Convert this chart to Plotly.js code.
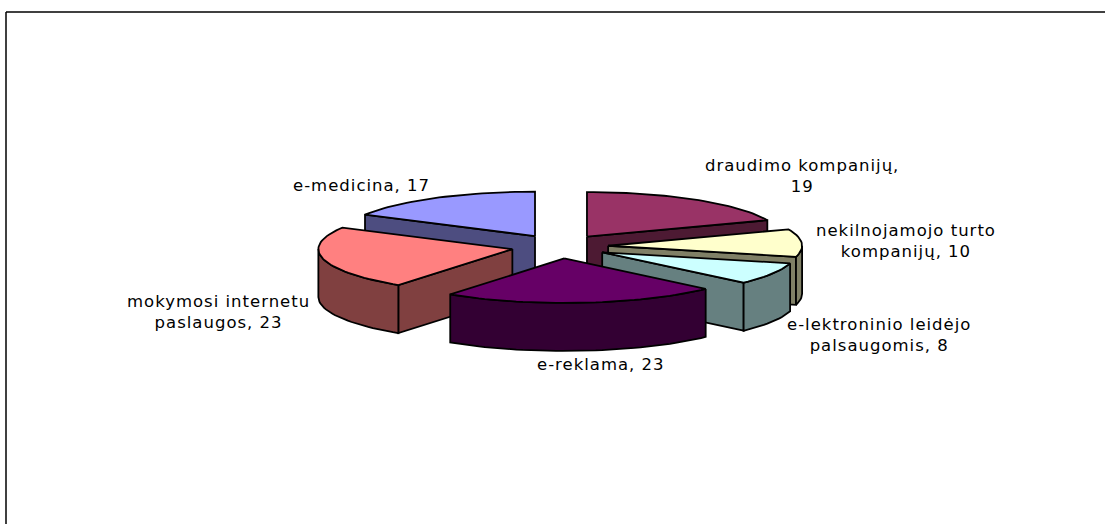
<!DOCTYPE html>
<html>
<head>
<meta charset="utf-8">
<script src="https://cdn.plot.ly/plotly-3.0.1.min.js"></script>
<style>
html,body{margin:0;padding:0;background:#fff}
.annotation-text{letter-spacing:1px}
</style>
</head>
<body>
<div id="chart" style="width:1105px;height:524px"></div>
<script>
// Share of e-services by sector, clockwise from twelve o'clock
const categories = ['draudimo kompanijų', 'nekilnojamojo turto kompanijų', 'e-lektroninio leidėjo palsaugomis', 'e-reklama', 'mokymosi internetu paslaugos', 'e-medicina'];
const values = [19, 10, 8, 23, 23, 17];
const topColors = ['#993366', '#FFFFCC', '#CCFFFF', '#660066', '#FF8080', '#9999FF'];
const sideColors = ['#4D1A33', '#808066', '#668080', '#330033', '#804040', '#4D4D80'];
const labelLines = [['draudimo kompanijų,', '19'], ['nekilnojamojo turto', 'kompanijų, 10'], ['e-lektroninio leidėjo', 'palsaugomis, 8'], ['e-reklama, 23'], ['mokymosi internetu', 'paslaugos, 23'], ['e-medicina, 17']];
const labelAnchors = [[802, 176], [906, 241], [879, 335], [601, 364], [218, 312], [361, 185]];

// Oblique pie projection
const cx = 559.7, cy = 246.5, rx = 194, ry = 44.5, depth = 48, explode = 48.5, explodeY = 12;
const rad = d => d * Math.PI / 180;

function rim(ox, oy, from, to, drop) {
  const pts = [];
  const n = Math.max(2, Math.ceil(Math.abs(to - from) / 2));
  for (let i = 0; i <= n; i++) {
    const a = rad(from + (to - from) * i / n);
    pts.push([ox + rx * Math.sin(a), oy - ry * Math.cos(a) + drop]);
  }
  return pts;
}

function poly(pts, color, name) {
  const xs = pts.map(p => p[0]), ys = pts.map(p => p[1]);
  xs.push(xs[0]); ys.push(ys[0]);
  return {x: xs, y: ys, type: 'scatter', mode: 'lines', fill: 'toself', fillcolor: color,
    line: {color: '#000', width: 1.8}, hoverinfo: 'skip', name: name, showlegend: false};
}

const total = values.reduce((a, b) => a + b, 0);
let acc = 0;
const slices = values.map((v, i) => {
  const from = acc / total * 360;
  acc += v;
  const to = acc / total * 360;
  const mid = rad((from + to) / 2);
  return {i, from, to, ox: cx + explode * Math.sin(mid), oy: cy - explodeY * Math.cos(mid)};
});

// Painted back to front so nearer slices cover the walls behind them
const order = [5, 0, 1, 2, 4, 3];
const traces = [];
order.forEach(k => {
  const s = slices[k], name = categories[k], side = sideColors[k];
  const edge = ang => {
    const p = rim(s.ox, s.oy, ang, ang, 0)[0];
    return [[s.ox, s.oy], p, [p[0], p[1] + depth], [s.ox, s.oy + depth]];
  };
  if (Math.sin(rad(s.from)) < -1e-6) traces.push(poly(edge(s.from), side, name));
  if (Math.sin(rad(s.to)) > 1e-6) traces.push(poly(edge(s.to), side, name));
  const a = Math.max(s.from, 90), b = Math.min(s.to, 270);
  if (b > a) {
    traces.push(poly(rim(s.ox, s.oy, a, b, 0).concat(rim(s.ox, s.oy, b, a, depth)), side, name));
  }
  traces.push(poly([[s.ox, s.oy]].concat(rim(s.ox, s.oy, s.from, s.to, 0)), topColors[k], name));
});

const labelFont = {family: 'DejaVu Sans, Verdana, sans-serif', size: 16.5, color: '#000'};
const annotations = labelLines.map((lines, i) => ({
  x: labelAnchors[i][0], y: labelAnchors[i][1], xref: 'x', yref: 'y',
  text: lines.join('<br>'), showarrow: false, align: 'center', font: labelFont,
  xanchor: 'center', yanchor: 'middle'
}));

// Chart frame: only the top and left edges fall inside the page
const frame = {color: '#000', width: 1.5};
const layout = {
  width: 1105, height: 524, margin: {l: 0, r: 0, t: 0, b: 0},
  paper_bgcolor: '#fff', plot_bgcolor: '#fff', showlegend: false,
  xaxis: {range: [0, 1105], visible: false, fixedrange: true},
  yaxis: {range: [524, 0], visible: false, fixedrange: true},
  annotations: annotations,
  shapes: [
    {type: 'line', xref: 'x', yref: 'y', x0: 6, y0: 12, x1: 1105, y1: 12, line: frame},
    {type: 'line', xref: 'x', yref: 'y', x0: 6, y0: 12, x1: 6, y1: 524, line: frame}
  ]
};

Plotly.newPlot('chart', traces, layout, {displayModeBar: false, staticPlot: true});
</script>
</body>
</html>
